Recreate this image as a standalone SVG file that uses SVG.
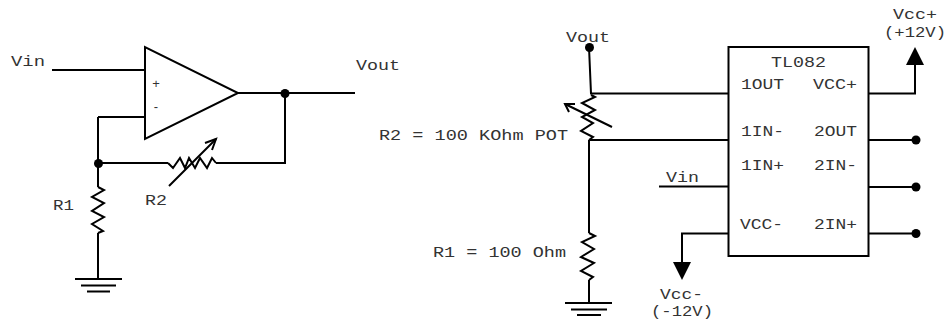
<svg xmlns="http://www.w3.org/2000/svg" width="948" height="320" viewBox="0 0 948 320">
<style>
.w{fill:none;stroke:#000;stroke-width:2}
.t{fill:#000;stroke:none}
text{font-family:"Liberation Mono","Courier New",monospace;font-size:14px;fill:#333}
.s{font-family:"Liberation Sans",Arial,sans-serif;font-size:13px;text-anchor:middle}
</style>
<rect width="948" height="320" fill="#fff"/>
<g id="connectors">
<path class="w" d="M52 70H145M98 117H145M98 117V187M238 93H355M285 93V163H216M98 163H168"/>
<path class="w" d="M98 233V279M169 186L216 139"/>
<path class="w" d="M589 47L591 93.500H728M589 140H728M589 140V233M589 280V303M659 186.500H728"/>
<path class="w" d="M728 233.500H682V262M868 93.500H915V65M868 140H916M868 187H916M868 233.500H916"/>
<path class="w" d="M612 127L565 104"/>
</g>
<g id="opamp"><path class="w" d="M145 47V139L238 93Z"/><text class="s" x="156" y="88">+</text><text class="s" x="156" y="111">-</text></g>
<g id="junction-out"><circle class="t" cx="285" cy="93.500" r="4.500"/></g>
<g id="junction-in"><circle class="t" cx="98.500" cy="163.500" r="4.500"/></g>
<g id="R1"><path class="w" d="M98 187L104 190L92 197L104 203L92 211L104 217L92 224L103 231L98 233"/></g>
<g id="R2"><path class="w" d="M168 163L173 168L180 158L185 168L189 158L195 168L200 158L207 168L212 158L216 163"/></g>
<g id="gnd-left"><path class="w" d="M75 279H122M81 285.500H116M87 291.500H110"/></g>
<g id="arrow-r2"><path class="w" d="M205 143L216 139L212 150"/></g>
<g id="label-left">
<text x="11" y="66" textLength="34" lengthAdjust="spacingAndGlyphs">Vin</text>
<text x="356" y="70" textLength="44" lengthAdjust="spacingAndGlyphs">Vout</text>
<text x="53" y="210" textLength="21" lengthAdjust="spacingAndGlyphs">R1</text>
<text x="145" y="205" textLength="22" lengthAdjust="spacingAndGlyphs">R2</text>
</g>
<g id="vout-pin"><circle class="t" cx="589.500" cy="47.500" r="4.500"/><text x="566" y="42" textLength="44" lengthAdjust="spacingAndGlyphs">Vout</text></g>
<g id="R2-pot"><path class="w" d="M591 95L595 97L582 103L595 110L582 117L593 123L581 131L593 137L589 140"/><path class="w" d="M575 104H565L569 112"/>
<text x="379" y="140" textLength="189" lengthAdjust="spacingAndGlyphs">R2 = 100 KOhm POT</text></g>
<g id="R1-right"><path class="w" d="M589 233L595 236L582 242L594 249L581 257L594 263L581 271L593 277L589 280"/>
<text x="433" y="257" textLength="133" lengthAdjust="spacingAndGlyphs">R1 = 100 Ohm</text></g>
<g id="gnd-right"><path class="w" d="M565 303H612M571 309.500H607M577 315H601"/></g>
<g id="vin-right"><text x="666" y="182" textLength="33" lengthAdjust="spacingAndGlyphs">Vin</text></g>
<g id="vcc-minus"><path class="t" d="M673 262H691L682 280Z"/>
<text x="660" y="299" textLength="43" lengthAdjust="spacingAndGlyphs">Vcc-</text>
<text x="651" y="316" textLength="62" lengthAdjust="spacingAndGlyphs">(-12V)</text></g>
<g id="vcc-plus"><path class="t" d="M906 65H924L915 47Z"/>
<text x="893" y="19" textLength="44" lengthAdjust="spacingAndGlyphs">Vcc+</text>
<text x="884" y="37" textLength="62" lengthAdjust="spacingAndGlyphs">(+12V)</text></g>
<g id="tl082"><rect class="w" x="728.500" y="47" width="140" height="209"/>
<text x="771" y="67" textLength="55" lengthAdjust="spacingAndGlyphs">TL082</text>
<text x="741" y="89" textLength="43" lengthAdjust="spacingAndGlyphs">1OUT</text>
<text x="813" y="89" textLength="44" lengthAdjust="spacingAndGlyphs">VCC+</text>
<text x="741" y="136" textLength="43" lengthAdjust="spacingAndGlyphs">1IN-</text>
<text x="814" y="136" textLength="43" lengthAdjust="spacingAndGlyphs">2OUT</text>
<text x="741" y="170" textLength="43" lengthAdjust="spacingAndGlyphs">1IN+</text>
<text x="814" y="170" textLength="43" lengthAdjust="spacingAndGlyphs">2IN-</text>
<text x="740" y="229" textLength="43" lengthAdjust="spacingAndGlyphs">VCC-</text>
<text x="814" y="229" textLength="43" lengthAdjust="spacingAndGlyphs">2IN+</text></g>
<g id="pin-2out"><circle class="t" cx="916" cy="140" r="4.500"/></g>
<g id="pin-2in-minus"><circle class="t" cx="916" cy="187" r="4.500"/></g>
<g id="pin-2in-plus"><circle class="t" cx="916" cy="233.500" r="4.500"/></g>
</svg>
